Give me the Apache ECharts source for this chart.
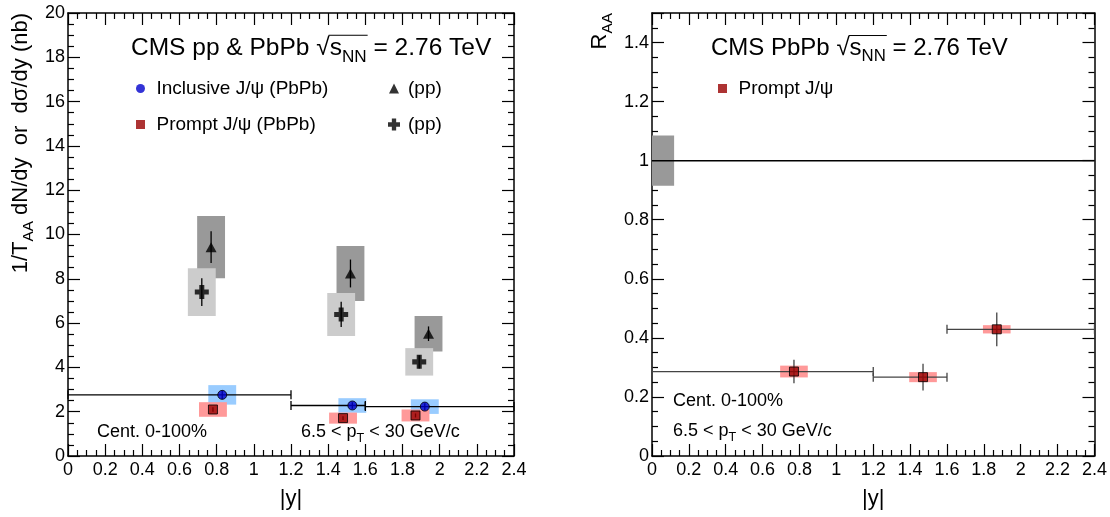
<!DOCTYPE html>
<html><head><meta charset="utf-8">
<script src="https://cdn.jsdelivr.net/npm/echarts@6/dist/echarts.min.js"></script>
<style>html,body{margin:0;padding:0;background:#fff}#c{width:1110px;height:517px}</style>
</head><body><div id="c"></div>
<script>
// ---------------- data ----------------
const xTicks = ['0','0.2','0.4','0.6','0.8','1','1.2','1.4','1.6','1.8','2','2.2','2.4'];
const binEdges = [0, 1.2, 1.6, 2.4];

// Left panel: yields / cross sections
const incX = [0.83, 1.53, 1.92];
const incY = [2.76, 2.28, 2.23];
const incStat = [0.2, 0.15, 0.15];
const incSyst = [0.44, 0.33, 0.33];

const promptX = [0.78, 1.48, 1.87];
const promptY = [2.10, 1.71, 1.83];
const promptStat = [0.10, 0.08, 0.09];
const promptSyst = [0.33, 0.25, 0.27];

const ppIncX = [0.77, 1.52, 1.94];
const ppIncY = [9.43, 8.24, 5.52];
const ppIncStat = [0.72, 0.63, 0.33];
const ppIncSyst = [1.40, 1.24, 0.80];

const ppPrX = [0.72, 1.47, 1.89];
const ppPrY = [7.40, 6.39, 4.25];
const ppPrStat = [0.63, 0.57, 0.30];
const ppPrSyst = [1.08, 0.97, 0.62];

// Right panel: R_AA
const raaX = [0.77, 1.47, 1.87];
const raaY = [0.286, 0.267, 0.429];
const raaStat = [0.040, 0.045, 0.057];
const raaSyst = [0.020, 0.017, 0.014];
const raaGlobalUnc = 0.085;
const refLineY = 1;

// ---------------- helpers ----------------
const FONT = 'Liberation Sans';
const BOX_HW = 0.075;      // half width of systematic boxes (x units)
const GLOBAL_HW = 0.06;
const cv = document.createElement('canvas').getContext('2d');
function tw(t, fs) { cv.font = fs + 'px "' + FONT + '"'; return cv.measureText(t).width; }

// segs: [text, kind] kind: 'n' normal, 's' subscript, 'r'/'rs' under radical (overline)
function textLine(segs, x, y, fs, opt) {
  opt = opt || {};
  const children = [];
  let cx = 0, olStart = null, olEnd = null;
  const parts = segs.map(([t, k]) => {
    const sub = k === 's' || k === 'rs';
    const f = sub ? fs * 0.7 : fs;
    const w = tw(t, f);
    const p = {t, k, f, w, x: cx, sub};
    cx += w;
    return p;
  });
  const total = cx;
  const shift = opt.alignRight ? -total : 0;
  parts.forEach(p => {
    children.push({type: 'text', x: p.x + shift, y: p.sub ? fs * 0.36 : 0,
      style: {text: p.t, fontSize: p.f, fontFamily: FONT, fill: '#000', align: 'left', verticalAlign: 'middle'}});
    if (p.k === 'r' || p.k === 'rs') {
      if (olStart === null) olStart = p.x + shift;
      olEnd = p.x + p.w + shift;
    }
  });
  if (olStart !== null) {
    children.push({type: 'line', shape: {x1: olStart - 1, y1: -fs * 0.52, x2: olEnd + 1, y2: -fs * 0.52},
      style: {stroke: '#000', lineWidth: 1}});
  }
  return {type: 'group', x, y, rotation: opt.rotation || 0, children, silent: true};
}

function boxSeries(xs, ys, es, hw, color, xi, z) {
  return {
    type: 'custom', xAxisIndex: xi, yAxisIndex: xi, z, silent: true, clip: true,
    data: xs.map((x, i) => [x, ys[i], es[i], hw]),
    renderItem: (params, api) => {
      const x = api.value(0), y = api.value(1), e = api.value(2), h = api.value(3);
      const a = api.coord([x - h, y + e]), b = api.coord([x + h, y - e]);
      return {type: 'rect', shape: {x: a[0], y: a[1], width: b[0] - a[0], height: b[1] - a[1]}, style: {fill: color}};
    }
  };
}
function vErrSeries(xs, ys, es, color, xi, z) {
  return {
    type: 'custom', xAxisIndex: xi, yAxisIndex: xi, z, silent: true, clip: true,
    data: xs.map((x, i) => [x, ys[i], es[i]]),
    renderItem: (params, api) => {
      const x = api.value(0), y = api.value(1), e = api.value(2);
      const a = api.coord([x, y + e]), b = api.coord([x, y - e]);
      return {type: 'line', shape: {x1: a[0], y1: a[1], x2: b[0], y2: b[1]}, style: {stroke: color, lineWidth: 1.3}};
    }
  };
}
function hErrSeries(ys, color, xi, z) {
  return {
    type: 'custom', xAxisIndex: xi, yAxisIndex: xi, z, silent: true, clip: false,
    data: ys.map((y, i) => [binEdges[i], binEdges[i + 1], y]),
    renderItem: (params, api) => {
      const a = api.coord([api.value(0), api.value(2)]), b = api.coord([api.value(1), api.value(2)]);
      const st = {stroke: color, lineWidth: 1.3};
      return {type: 'group', children: [
        {type: 'line', shape: {x1: a[0], y1: a[1], x2: b[0], y2: b[1]}, style: st},
        {type: 'line', shape: {x1: a[0], y1: a[1] - 4.5, x2: a[0], y2: a[1] + 4.5}, style: st},
        {type: 'line', shape: {x1: b[0], y1: b[1] - 4.5, x2: b[0], y2: b[1] + 4.5}, style: st}
      ]};
    }
  };
}
function pts(xs, ys) { return xs.map((x, i) => [x, ys[i]]); }

function xAxisDef(grid, pos, labels) {
  return {
    type: 'value', gridIndex: grid, position: pos, min: 0, max: 2.4, interval: 0.2,
    axisLine: {show: true, onZero: false, lineStyle: {color: '#000', width: 1.5}},
    axisTick: {show: true, inside: true, length: 12, lineStyle: {color: '#000', width: 1.2}},
    minorTick: {show: true, splitNumber: 4, length: 6, lineStyle: {color: '#000', width: 1.2}},
    splitLine: {show: false}, minorSplitLine: {show: false},
    axisLabel: {show: labels, margin: 5, fontSize: 18, fontFamily: FONT, color: '#000',
      formatter: v => xTicks[Math.round(v / 0.2)]},
    name: labels ? '|y|' : '', nameLocation: 'middle', nameGap: 32,
    nameTextStyle: {fontSize: 22, fontFamily: FONT, color: '#000', verticalAlign: 'top'}
  };
}
function yAxisDef(grid, pos, labels, max, interval, dec, showMax) {
  return {
    type: 'value', gridIndex: grid, position: pos, min: 0, max, interval,
    axisLine: {show: true, onZero: false, lineStyle: {color: '#000', width: 1.5}},
    axisTick: {show: true, inside: true, length: 12, lineStyle: {color: '#000', width: 1.2}},
    minorTick: {show: true, splitNumber: 4, length: 6, lineStyle: {color: '#000', width: 1.2}},
    splitLine: {show: false}, minorSplitLine: {show: false},
    axisLabel: {show: labels, showMaxLabel: showMax, margin: 3, fontSize: 18, fontFamily: FONT, color: '#000',
      formatter: v => String(+v.toFixed(dec))}
  };
}

const crossPath = 'path://M3.2,0H6.8V3.2H10V6.8H6.8V10H3.2V6.8H0V3.2H3.2Z';
function leg(name, left, top, size, pad) {
  return {data: [name], left, top, padding: 0, itemWidth: size, itemHeight: size, itemGap: 0,
    selectedMode: false, textStyle: {fontSize: 19, fontFamily: FONT, color: '#000', padding: [0, 0, 0, pad]},
    itemStyle: {borderWidth: 0}};
}

const chart = echarts.init(document.getElementById('c'), null, {renderer: 'canvas'});
const option = {
  animation: false,
  backgroundColor: '#fff',
  grid: [
    {left: 68, top: 13, width: 446, height: 443},
    {left: 652, top: 13, width: 443, height: 443}
  ],
  xAxis: [xAxisDef(0, 'bottom', true), xAxisDef(1, 'bottom', true), xAxisDef(0, 'top', false), xAxisDef(1, 'top', false)],
  yAxis: [yAxisDef(0, 'left', true, 20, 2, 0, true), yAxisDef(1, 'left', true, 1.5, 0.2, 1, false),
          yAxisDef(0, 'right', false, 20, 2, 0, true), yAxisDef(1, 'right', false, 1.5, 0.2, 1, false)],
  legend: [
    leg('Inclusive J/ψ (PbPb)', 136, 79, 9, 6.5),
    leg('Prompt J/ψ (PbPb)', 136, 115, 9, 6.5),
    leg('(pp)', 389, 79, 10, 4),
    leg('(pp) ', 388, 115, 12, 3),
    leg('Prompt J/ψ', 718, 79, 9, 6.5)
  ],
  series: [
    // left panel
    boxSeries(ppIncX, ppIncY, ppIncSyst, BOX_HW, '#999999', 0, 1),
    boxSeries(ppPrX, ppPrY, ppPrSyst, BOX_HW, '#cccccc', 0, 2),
    boxSeries(incX, incY, incSyst, BOX_HW, '#99ccff', 0, 3),
    boxSeries(promptX, promptY, promptSyst, BOX_HW, '#ff9999', 0, 4),
    hErrSeries(incY, '#000', 0, 5),
    vErrSeries(ppIncX, ppIncY, ppIncStat, '#000', 0, 6),
    vErrSeries(ppPrX, ppPrY, ppPrStat, '#000', 0, 6),
    vErrSeries(incX, incY, incStat, '#000', 0, 6),
    vErrSeries(promptX, promptY, promptStat, '#000', 0, 6),
    {type: 'scatter', name: '(pp)', xAxisIndex: 0, yAxisIndex: 0, z: 7, symbol: 'triangle', symbolSize: [11, 10],
      symbolKeepAspect: true, itemStyle: {color: '#000'}, data: pts(ppIncX, ppIncY)},
    {type: 'scatter', name: '(pp) ', xAxisIndex: 0, yAxisIndex: 0, z: 7, symbol: crossPath, symbolSize: 14,
      symbolKeepAspect: true, itemStyle: {color: '#000'}, data: pts(ppPrX, ppPrY)},
    {type: 'scatter', name: 'Inclusive J/ψ (PbPb)', xAxisIndex: 0, yAxisIndex: 0, z: 7, symbol: 'circle', symbolSize: 9,
      itemStyle: {color: '#0000cc', borderColor: '#000', borderWidth: 1}, data: pts(incX, incY)},
    {type: 'scatter', name: 'Prompt J/ψ (PbPb)', xAxisIndex: 0, yAxisIndex: 0, z: 7, symbol: 'rect', symbolSize: 9,
      itemStyle: {color: '#990000', borderColor: '#000', borderWidth: 1}, data: pts(promptX, promptY)},
    // right panel
    boxSeries([GLOBAL_HW], [refLineY], [raaGlobalUnc], GLOBAL_HW, '#999999', 1, 1),
    {type: 'line', xAxisIndex: 1, yAxisIndex: 1, z: 2, symbol: 'none', silent: true,
      lineStyle: {color: '#000', width: 1.5}, data: [[0, refLineY], [2.4, refLineY]]},
    boxSeries(raaX, raaY, raaSyst, BOX_HW, '#ff9999', 1, 3),
    hErrSeries(raaY, '#444', 1, 5),
    vErrSeries(raaX, raaY, raaStat, '#444', 1, 6),
    {type: 'scatter', name: 'Prompt J/ψ', xAxisIndex: 1, yAxisIndex: 1, z: 7, symbol: 'rect', symbolSize: 9,
      itemStyle: {color: '#990000', borderColor: '#000', borderWidth: 1}, data: pts(raaX, raaY)}
  ],
  graphic: [
    textLine([['CMS pp & PbPb ', 'n'], ['√', 'n'], ['s', 'r'], ['NN', 'rs'], [' = 2.76 TeV', 'n']], 131, 48, 24.5),
    textLine([['CMS PbPb ', 'n'], ['√', 'n'], ['s', 'r'], ['NN', 'rs'], [' = 2.76 TeV', 'n']], 711, 48, 24),
    textLine([['1/T', 'n'], ['AA', 's'], [' dN/dy  or  dσ/dy (nb)', 'n']], 21, 13, 22, {rotation: Math.PI / 2, alignRight: true}),
    textLine([['R', 'n'], ['AA', 's']], 600, 13, 22, {rotation: Math.PI / 2, alignRight: true}),
    textLine([['Cent. 0-100%', 'n']], 97, 432, 18),
    textLine([['6.5 < p', 'n'], ['T', 's'], [' < 30 GeV/c', 'n']], 301, 432, 18),
    textLine([['Cent. 0-100%', 'n']], 673, 401, 18),
    textLine([['6.5 < p', 'n'], ['T', 's'], [' < 30 GeV/c', 'n']], 673, 431, 18)
  ]
};
chart.setOption(option);
</script></body></html>
